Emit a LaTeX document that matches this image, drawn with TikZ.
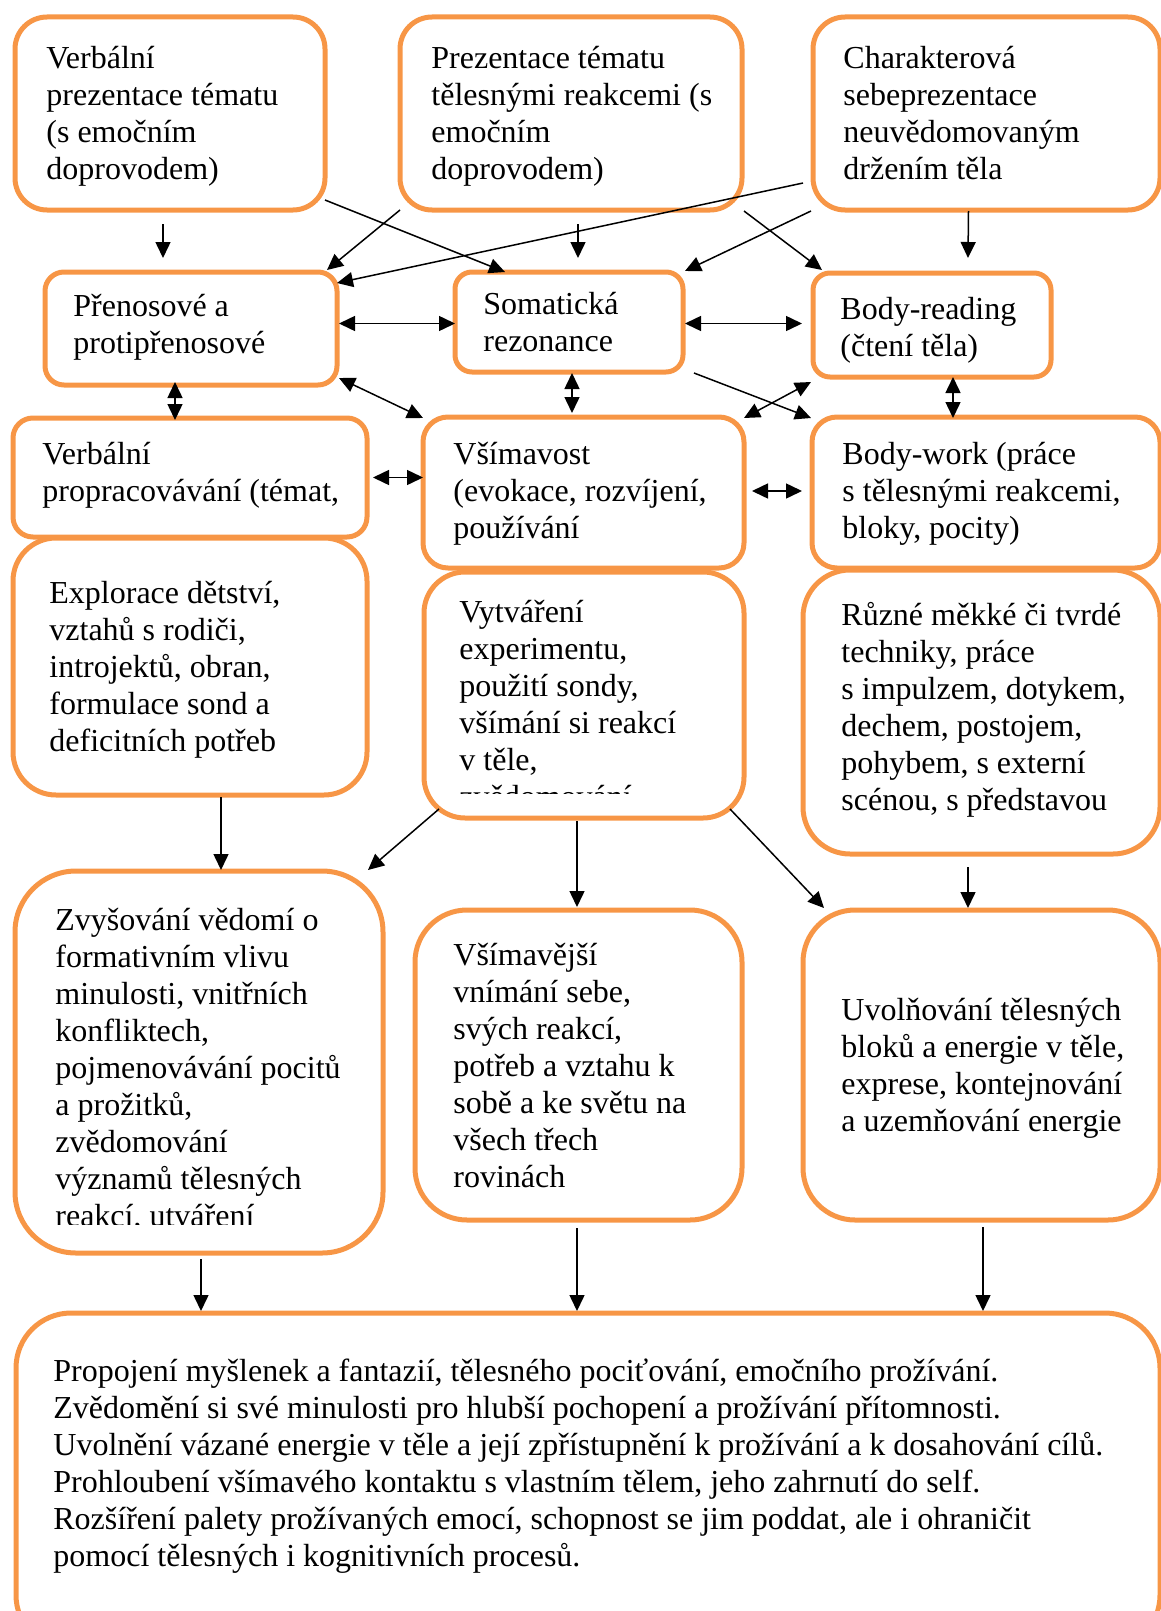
\documentclass[tikz,border=0pt]{standalone}
\usepackage{fontspec}
\setmainfont{Liberation Serif}
\usetikzlibrary{arrows.meta, calc, fit}
\definecolor{boxOrange}{HTML}{F79646}

\tikzset{
  box/.style={draw=boxOrange, line width=2.5pt, inner sep=0pt, outer sep=0pt},
  txt/.style={anchor=base west, align=left, inner sep=0pt, font=\fontsize{16pt}{18.5pt}\selectfont},
  arr/.style={-{Triangle[length=8pt, width=7.5pt]}, line width=0.75pt},
  darr/.style={{Triangle[length=8pt, width=7.5pt]}-{Triangle[length=8pt, width=7.5pt]}, line width=0.75pt}
}

\begin{document}
\begin{tikzpicture}[x=0.5pt, y=-0.5pt]
  \useasboundingbox (0,0) rectangle (1161,1611);
  \clip (0,0) rectangle (1161,1611);

  % horni rada (texty kotvene na posledni radek)
  \node[box, rounded corners=16pt, fit={(15,17) (325,210)}] (A) {};
  \node[box, rounded corners=16pt, fit={(400,17) (742,210)}] (B) {};
  \node[box, rounded corners=16pt, fit={(813,17) (1160,210)}] (C) {};
  \node[txt] (Atxt) at (46,179.5) {Verbální\\prezentace tématu\\(s emočním\\doprovodem)};
  \node[txt] (Btxt) at (431,179.5) {Prezentace tématu\\tělesnými reakcemi (s\\emočním\\doprovodem)};
  \node[txt] (Ctxt) at (843,179.5) {Charakterová\\sebeprezentace\\neuvědomovaným\\držením těla};

  % druha rada
  \node[box, rounded corners=9.5pt, fit={(45,272) (337,385)}] (P) {};
  \node[box, rounded corners=8.5pt, fit={(455,272) (683,372)}] (S) {};
  \node[box, rounded corners=8.5pt, fit={(813,273) (1051,377)}] (R) {};
  \node[txt] (Ptxt) at (73,353.5) {Přenosové a\\protipřenosové};
  \node[txt] (Stxt) at (483,351.5) {Somatická\\rezonance};
  \node[txt] (Rtxt) at (840,356) {Body-reading\\(čtení těla)};

  % treti rada
  \node[box, rounded corners=10pt, fit={(13,418) (367,537)}] (V) {};
  \node[box, rounded corners=12.5pt, fit={(423,417) (744,568)}] (M) {};
  \node[box, rounded corners=12.5pt, fit={(812,417) (1160,568)}] (W) {};
  \node[txt] (Vtxt) at (42,501) {Verbální\\propracovávání (témat,};
  \node[txt] (Mtxt) at (453,538) {Všímavost\\(evokace, rozvíjení,\\používání};
  \node[txt] (Wtxt) at (842,538) {Body-work (práce\\s tělesnými reakcemi,\\bloky, pocity)};

  % ctvrta rada
  \node[box, rounded corners=21.5pt, fit={(13,538) (367,795)}] (E) {};
  \node[box, rounded corners=20.5pt, fit={(424,572) (744,818)}] (X) {};
  \node[box, rounded corners=23.5pt, fit={(803,570) (1160,854)}] (T) {};
  \node[txt] (Etxt) at (49,751) {Explorace dětství,\\vztahů s rodiči,\\introjektů, obran,\\formulace sond a\\deficitních potřeb};
  \begin{scope}
    \clip (424,572) rectangle (744,793.5);
    \node[txt] (Xtxt) at (459,807) {Vytváření\\experimentu,\\použití sondy,\\všímání si reakcí\\v těle,\\zvědomování};
  \end{scope}
  \node[txt] (Ttxt) at (841,810) {Různé měkké či tvrdé\\techniky, práce\\s impulzem, dotykem,\\dechem, postojem,\\pohybem, s externí\\scénou, s představou};

  % pata rada
  \node[box, rounded corners=30.5pt, fit={(15,871) (383,1253)}] (Z) {};
  \node[box, rounded corners=26pt, fit={(415,910) (742,1220)}] (Vj) {};
  \node[box, rounded corners=26pt, fit={(803,910) (1160,1220)}] (U) {};
  \begin{scope}
    \clip (15,871) rectangle (383,1224);
    \node[txt] (Ztxt) at (55,1226) {Zvyšování vědomí o\\formativním vlivu\\minulosti, vnitřních\\konfliktech,\\pojmenovávání pocitů\\a prožitků,\\zvědomování\\významů tělesných\\reakcí, utváření};
  \end{scope}
  \node[txt] (Vjtxt) at (453,1187) {Všímavější\\vnímání sebe,\\svých reakcí,\\potřeb a vztahu k\\sobě a ke světu na\\všech třech\\rovinách};
  \node[txt] (Utxt) at (841,1131) {Uvolňování tělesných\\bloků a energie v těle,\\exprese, kontejnování\\a uzemňování energie};

  % vysledek
  \node[box, rounded corners=27.5pt, fit={(16,1313) (1160,1650)}] (F) {};
  \node[txt] (Ftxt) at (53,1566.5) {Propojení myšlenek a fantazií, tělesného pociťování, emočního prožívání.\\Zvědomění si své minulosti pro hlubší pochopení a prožívání přítomnosti.\\Uvolnění vázané energie v těle a její zpřístupnění k prožívání a k dosahování cílů.\\Prohloubení všímavého kontaktu s vlastním tělem, jeho zahrnutí do self.\\Rozšíření palety prožívaných emocí, schopnost se jim poddat, ale i ohraničit\\pomocí tělesných i kognitivních procesů.};

  % sipky z horni rady
  \draw[arr] ($(A.south)+(-7,14)$) -- ($(P.north)+(-28,-14)$);
  \draw[arr] ($(A.south east)+(0,-10)$) -- ($(S.north west)+(50,0)$);
  \draw[arr] (B.south west) -- ($(P.north east)+(-10,-2)$);
  \draw[arr] ($(C.south west)+(-10,-27)$) -- ($(P.north east)+(0,11)$);
  \draw[arr] ($(B.south)+(7,14)$) -- ($(S.north)+(9,-14)$);
  \draw[arr] ($(B.south east)+(2,1)$) -- ($(R.north west)+(9,-3)$);
  \draw[arr] ($(C.south west)+(-2,1)$) -- ($(S.north east)+(2,-1)$);
  \draw[arr] ($(C.south)+(-18,1)$) -- ($(R.north)+(36,-15)$);

  % sipky uprostred
  \draw[darr] ($(P.east)+(2,-5)$) -- ($(S.west)+(0,1.5)$);
  \draw[darr] ($(S.east)+(2,1.5)$) -- ($(R.west)+(-11,-1.5)$);
  \draw[darr] ($(P.south)+(-16,-3)$) -- ($(V.north)+(-15,2)$);
  \draw[darr] ($(P.south east)+(2,-7)$) -- ($(M.north west)+(0,1)$);
  \draw[darr] ($(S.south)+(3,1)$) -- ($(M.north)+(-11.5,-4)$);
  \draw[arr] ($(S.south east)+(11,1)$) -- ($(W.north west)+(-1,1)$);
  \draw[darr] ($(M.north east)+(0,1)$) -- ($(R.south west)+(-2,5)$);
  \draw[darr] ($(R.south)+(21,0)$) -- ($(W.north)+(-33,1)$);
  \draw[darr] ($(V.east)+(6,0)$) -- ($(M.west)+(0,-15)$);
  \draw[darr] ($(M.east)+(8,-1.5)$) -- ($(W.west)+(-10,-1.5)$);

  % sipky dole
  \draw[arr] ($(E.south)+(31,2)$) -- ($(Z.north)+(22,-1)$);
  \draw[arr] ($(X.south west)+(15,-9)$) -- ($(Z.north east)+(-15,-1)$);
  \draw[arr] ($(X.south)+(-7,3)$) -- ($(Vj.north)+(-1.5,-3)$);
  \draw[arr] ($(X.south east)+(-14,-9)$) -- ($(U.north west)+(21,-2)$);
  \draw[arr] ($(T.south)+(-13.5,13)$) -- ($(U.north)+(-13.5,-2)$);
  \draw[arr] ($(Z.south)+(2,6)$) -- ($(F.north)+(-387,-2)$);
  \draw[arr] ($(Vj.south)+(-1.5,8)$) -- ($(F.north)+(-11,-2)$);
  \draw[arr] ($(U.south)+(1.5,7)$) -- ($(F.north)+(395,-2)$);
\end{tikzpicture}
\end{document}
